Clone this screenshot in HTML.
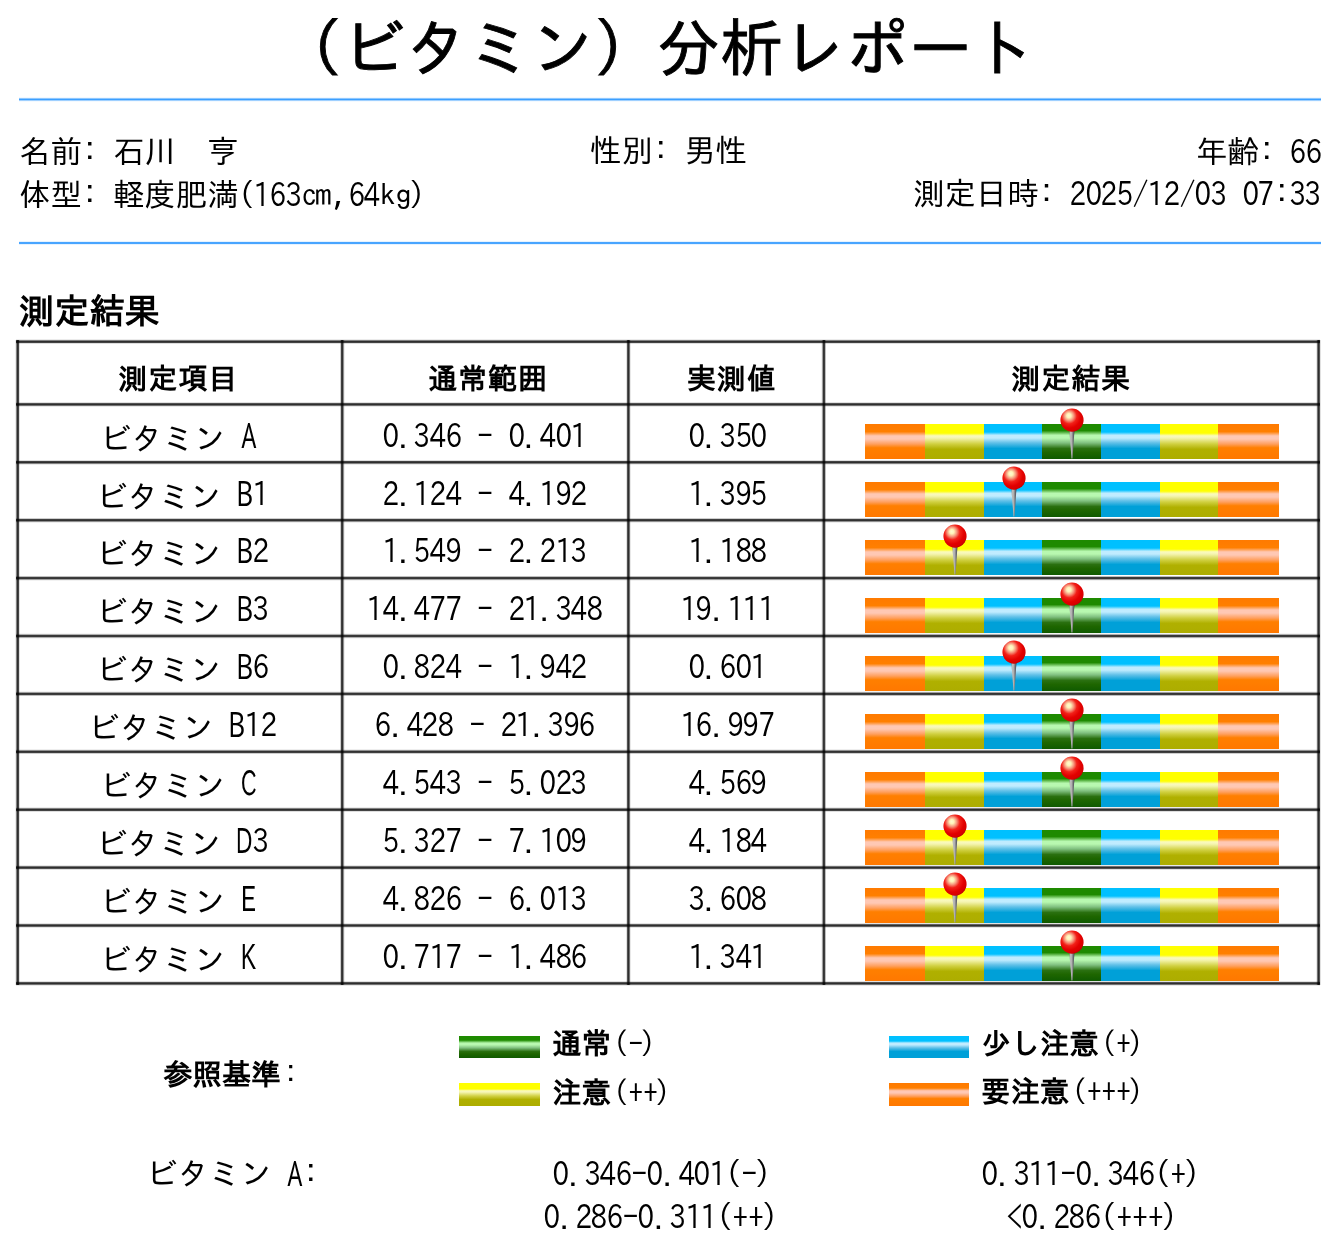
<!DOCTYPE html>
<html lang="ja"><head><meta charset="utf-8"><title>（ビタミン）分析レポート</title><style>
html,body{margin:0;padding:0;background:#fff}
body{width:1332px;height:1246px;position:relative;overflow:hidden;font-family:"IPAGothic","Liberation Sans",sans-serif;color:#000}
.a{position:absolute;white-space:pre;line-height:1;margin:0;will-change:transform}
.b{font-weight:bold}
.ln{position:absolute}
.bar{position:absolute;height:35px}
.bar i{position:absolute;top:0;display:block;height:35px}
.lb{position:absolute}
.d{display:inline-flex;justify-content:center;width:.5em;font-family:IPAPGothic,IPAGothic,sans-serif;transform:scale(.84,1.03)}
.p{display:inline-block;width:.5em;text-align:left;font-family:IPAPGothic,IPAGothic,sans-serif;position:relative;top:1.2px}
.rp{display:inline-block;width:.5em;text-align:left;text-indent:-.073em}
.u{display:inline-block;width:.5em;text-align:left;font-family:IPAPGothic,IPAGothic,sans-serif}
.kt{position:relative;top:2.5px}
.lp{font-weight:normal}
.k{display:inline-block;width:.5em;text-align:left;text-indent:.091em;font-family:IPAPGothic,IPAGothic,sans-serif;position:relative;top:-4px}
.pin{position:absolute;overflow:visible}
.o{background:linear-gradient(#FF7A00 0%,#FF7F00 22%,#FFC8B4 34%,#FFC8B4 43%,#FFA060 57%,#FF7F00 68%,#FF7800 100%)}
.y{background:linear-gradient(#FFFF00 0%,#FFFF00 26%,#FAFAC0 34%,#F5F5B0 40%,#D0D040 57%,#B0B000 72%,#ADAD00 100%)}
.c{background:linear-gradient(#00C0FF 0%,#00C0FF 23%,#C0ECFF 32%,#C0ECFF 40%,#60C0E8 54%,#00A0D8 70%,#00A0D8 100%)}
.g{background:linear-gradient(#1E8A00 0%,#1E8A00 19%,#B8F8B0 32%,#B8F8B0 40%,#80C080 54%,#2A7010 70%,#1E6600 81%,#0F5A00 100%)}
</style></head>
<body>
<svg width="0" height="0" style="position:absolute"><defs>
<radialGradient id="ballG" cx="0.4" cy="0.36" r="0.66" fx="0.36" fy="0.3">
<stop offset="0" stop-color="#FFFBD2"/><stop offset="0.14" stop-color="#FFF2B8"/><stop offset="0.32" stop-color="#F69078"/><stop offset="0.5" stop-color="#F22018"/><stop offset="0.75" stop-color="#E20000"/><stop offset="0.92" stop-color="#D80000"/><stop offset="1" stop-color="#C00000"/></radialGradient>
<linearGradient id="needleG" x1="0" x2="1" y1="0" y2="0"><stop offset="0" stop-color="#8a8a8a"/><stop offset="0.3" stop-color="#c8c8c8"/><stop offset="0.55" stop-color="#9a9a9a"/><stop offset="1" stop-color="#3a3a48"/></linearGradient>
<g id="pinS"><polygon points="11.3,24 16.5,24 14.5,52.4 13.5,52.4" fill="url(#needleG)"/><circle cx="14" cy="14.1" r="11.6" fill="url(#ballG)"/></g>
</defs></svg>
<div class="a " style="top:16.04px;font-size:63.0px;left:206.70px;width:900.00px;text-align:center;-webkit-text-stroke:0.9px #000">（ビタミン）分析レポート</div>
<div class="ln" style="left:19px;width:1302px;top:97px;height:5px;background:linear-gradient(to bottom,rgba(30,144,255,0.060) 0px,rgba(30,144,255,0.060) 1px,rgba(30,144,255,0.500) 1px,rgba(30,144,255,0.500) 2px,rgba(30,144,255,0.868) 2px,rgba(30,144,255,0.868) 3px,rgba(30,144,255,0.424) 3px,rgba(30,144,255,0.424) 4px,rgba(30,144,255,0.048) 4px,rgba(30,144,255,0.048) 5px)"></div>
<div class="ln" style="left:19px;width:1302px;top:241px;height:4px;background:linear-gradient(to bottom,rgba(30,144,255,0.111) 0px,rgba(30,144,255,0.111) 1px,rgba(30,144,255,0.811) 1px,rgba(30,144,255,0.811) 2px,rgba(30,144,255,0.811) 2px,rgba(30,144,255,0.811) 3px,rgba(30,144,255,0.111) 3px,rgba(30,144,255,0.111) 4px)"></div>
<div class="a " style="top:135.86px;font-size:31.4px;left:18.55px;">名前<span class="k">:</span> 石川　亨</div>
<div class="a " style="top:134.94px;font-size:31.4px;left:590.38px;">性別<span class="k">:</span> 男性</div>
<div class="a " style="top:135.68px;font-size:31.4px;right:10.24px;text-align:right;">年齢<span class="k">:</span> <span class="d">6</span><span class="d">6</span></div>
<div class="a " style="top:178.60px;font-size:31.4px;left:18.55px;">体型<span class="k">:</span> 軽度肥満(<span class="d">1</span><span class="d">6</span><span class="d">3</span>㎝,<span class="d">6</span><span class="d">4</span>kg<span class="rp">)</span></div>
<div class="a " style="top:178.39px;font-size:31.4px;right:10.54px;text-align:right;">測定日時<span class="k">:</span> <span class="d">2</span><span class="d">0</span><span class="d">2</span><span class="d">5</span>/<span class="d">1</span><span class="d">2</span>/<span class="d">0</span><span class="d">3</span> <span class="d">0</span><span class="d">7</span><span class="k">:</span><span class="d">3</span><span class="d">3</span></div>
<div class="a b" style="top:292.88px;font-size:35.2px;left:19.11px;">測定結果</div>
<div class="ln" style="top:340px;height:645px;left:15px;width:5px;background:linear-gradient(to right,rgba(0,0,0,0.078) 0px,rgba(0,0,0,0.078) 1px,rgba(0,0,0,0.496) 1px,rgba(0,0,0,0.496) 2px,rgba(0,0,0,0.818) 2px,rgba(0,0,0,0.818) 3px,rgba(0,0,0,0.739) 3px,rgba(0,0,0,0.739) 4px,rgba(0,0,0,0.131) 4px,rgba(0,0,0,0.131) 5px)"></div>
<div class="ln" style="top:340px;height:645px;left:340px;width:5px;background:linear-gradient(to right,rgba(0,0,0,0.191) 0px,rgba(0,0,0,0.191) 1px,rgba(0,0,0,0.753) 1px,rgba(0,0,0,0.753) 2px,rgba(0,0,0,0.805) 2px,rgba(0,0,0,0.805) 3px,rgba(0,0,0,0.435) 3px,rgba(0,0,0,0.435) 4px,rgba(0,0,0,0.065) 4px,rgba(0,0,0,0.065) 5px)"></div>
<div class="ln" style="top:340px;height:645px;left:626px;width:5px;background:linear-gradient(to right,rgba(0,0,0,0.117) 0px,rgba(0,0,0,0.117) 1px,rgba(0,0,0,0.679) 1px,rgba(0,0,0,0.679) 2px,rgba(0,0,0,0.818) 2px,rgba(0,0,0,0.818) 3px,rgba(0,0,0,0.557) 3px,rgba(0,0,0,0.557) 4px,rgba(0,0,0,0.091) 4px,rgba(0,0,0,0.091) 5px)"></div>
<div class="ln" style="top:340px;height:645px;left:821px;width:5px;background:linear-gradient(to right,rgba(0,0,0,0.052) 0px,rgba(0,0,0,0.052) 1px,rgba(0,0,0,0.374) 1px,rgba(0,0,0,0.374) 2px,rgba(0,0,0,0.792) 2px,rgba(0,0,0,0.792) 3px,rgba(0,0,0,0.766) 3px,rgba(0,0,0,0.766) 4px,rgba(0,0,0,0.252) 4px,rgba(0,0,0,0.252) 5px)"></div>
<div class="ln" style="top:340px;height:645px;left:1316px;width:5px;background:linear-gradient(to right,rgba(0,0,0,0.091) 0px,rgba(0,0,0,0.091) 1px,rgba(0,0,0,0.557) 1px,rgba(0,0,0,0.557) 2px,rgba(0,0,0,0.818) 2px,rgba(0,0,0,0.818) 3px,rgba(0,0,0,0.679) 3px,rgba(0,0,0,0.679) 4px,rgba(0,0,0,0.117) 4px,rgba(0,0,0,0.117) 5px)"></div>
<div class="ln" style="left:16px;width:1304px;top:339px;height:5px;background:linear-gradient(to bottom,rgba(0,0,0,0.078) 0px,rgba(0,0,0,0.078) 1px,rgba(0,0,0,0.496) 1px,rgba(0,0,0,0.496) 2px,rgba(0,0,0,0.818) 2px,rgba(0,0,0,0.818) 3px,rgba(0,0,0,0.739) 3px,rgba(0,0,0,0.739) 4px,rgba(0,0,0,0.131) 4px,rgba(0,0,0,0.131) 5px)"></div>
<div class="ln" style="left:16px;width:1304px;top:402px;height:5px;background:linear-gradient(to bottom,rgba(0,0,0,0.117) 0px,rgba(0,0,0,0.117) 1px,rgba(0,0,0,0.679) 1px,rgba(0,0,0,0.679) 2px,rgba(0,0,0,0.818) 2px,rgba(0,0,0,0.818) 3px,rgba(0,0,0,0.557) 3px,rgba(0,0,0,0.557) 4px,rgba(0,0,0,0.091) 4px,rgba(0,0,0,0.091) 5px)"></div>
<div class="ln" style="left:16px;width:1304px;top:460px;height:5px;background:linear-gradient(to bottom,rgba(0,0,0,0.131) 0px,rgba(0,0,0,0.131) 1px,rgba(0,0,0,0.740) 1px,rgba(0,0,0,0.740) 2px,rgba(0,0,0,0.818) 2px,rgba(0,0,0,0.818) 3px,rgba(0,0,0,0.496) 3px,rgba(0,0,0,0.496) 4px,rgba(0,0,0,0.078) 4px,rgba(0,0,0,0.078) 5px)"></div>
<div class="ln" style="left:16px;width:1304px;top:518px;height:5px;background:linear-gradient(to bottom,rgba(0,0,0,0.191) 0px,rgba(0,0,0,0.191) 1px,rgba(0,0,0,0.753) 1px,rgba(0,0,0,0.753) 2px,rgba(0,0,0,0.805) 2px,rgba(0,0,0,0.805) 3px,rgba(0,0,0,0.435) 3px,rgba(0,0,0,0.435) 4px,rgba(0,0,0,0.065) 4px,rgba(0,0,0,0.065) 5px)"></div>
<div class="ln" style="left:16px;width:1304px;top:576px;height:5px;background:linear-gradient(to bottom,rgba(0,0,0,0.252) 0px,rgba(0,0,0,0.252) 1px,rgba(0,0,0,0.766) 1px,rgba(0,0,0,0.766) 2px,rgba(0,0,0,0.792) 2px,rgba(0,0,0,0.792) 3px,rgba(0,0,0,0.374) 3px,rgba(0,0,0,0.374) 4px,rgba(0,0,0,0.052) 4px,rgba(0,0,0,0.052) 5px)"></div>
<div class="ln" style="left:16px;width:1304px;top:633px;height:6px;background:linear-gradient(to bottom,rgba(0,0,0,0.039) 0px,rgba(0,0,0,0.039) 1px,rgba(0,0,0,0.313) 1px,rgba(0,0,0,0.313) 2px,rgba(0,0,0,0.779) 2px,rgba(0,0,0,0.779) 3px,rgba(0,0,0,0.779) 3px,rgba(0,0,0,0.779) 4px,rgba(0,0,0,0.313) 4px,rgba(0,0,0,0.313) 5px,rgba(0,0,0,0.039) 5px,rgba(0,0,0,0.039) 6px)"></div>
<div class="ln" style="left:16px;width:1304px;top:691px;height:5px;background:linear-gradient(to bottom,rgba(0,0,0,0.052) 0px,rgba(0,0,0,0.052) 1px,rgba(0,0,0,0.374) 1px,rgba(0,0,0,0.374) 2px,rgba(0,0,0,0.792) 2px,rgba(0,0,0,0.792) 3px,rgba(0,0,0,0.766) 3px,rgba(0,0,0,0.766) 4px,rgba(0,0,0,0.252) 4px,rgba(0,0,0,0.252) 5px)"></div>
<div class="ln" style="left:16px;width:1304px;top:749px;height:5px;background:linear-gradient(to bottom,rgba(0,0,0,0.065) 0px,rgba(0,0,0,0.065) 1px,rgba(0,0,0,0.435) 1px,rgba(0,0,0,0.435) 2px,rgba(0,0,0,0.805) 2px,rgba(0,0,0,0.805) 3px,rgba(0,0,0,0.753) 3px,rgba(0,0,0,0.753) 4px,rgba(0,0,0,0.191) 4px,rgba(0,0,0,0.191) 5px)"></div>
<div class="ln" style="left:16px;width:1304px;top:807px;height:5px;background:linear-gradient(to bottom,rgba(0,0,0,0.078) 0px,rgba(0,0,0,0.078) 1px,rgba(0,0,0,0.496) 1px,rgba(0,0,0,0.496) 2px,rgba(0,0,0,0.818) 2px,rgba(0,0,0,0.818) 3px,rgba(0,0,0,0.739) 3px,rgba(0,0,0,0.739) 4px,rgba(0,0,0,0.131) 4px,rgba(0,0,0,0.131) 5px)"></div>
<div class="ln" style="left:16px;width:1304px;top:865px;height:5px;background:linear-gradient(to bottom,rgba(0,0,0,0.091) 0px,rgba(0,0,0,0.091) 1px,rgba(0,0,0,0.557) 1px,rgba(0,0,0,0.557) 2px,rgba(0,0,0,0.818) 2px,rgba(0,0,0,0.818) 3px,rgba(0,0,0,0.679) 3px,rgba(0,0,0,0.679) 4px,rgba(0,0,0,0.117) 4px,rgba(0,0,0,0.117) 5px)"></div>
<div class="ln" style="left:16px;width:1304px;top:923px;height:5px;background:linear-gradient(to bottom,rgba(0,0,0,0.104) 0px,rgba(0,0,0,0.104) 1px,rgba(0,0,0,0.618) 1px,rgba(0,0,0,0.618) 2px,rgba(0,0,0,0.818) 2px,rgba(0,0,0,0.818) 3px,rgba(0,0,0,0.618) 3px,rgba(0,0,0,0.618) 4px,rgba(0,0,0,0.104) 4px,rgba(0,0,0,0.104) 5px)"></div>
<div class="ln" style="left:16px;width:1304px;top:981px;height:5px;background:linear-gradient(to bottom,rgba(0,0,0,0.117) 0px,rgba(0,0,0,0.117) 1px,rgba(0,0,0,0.679) 1px,rgba(0,0,0,0.679) 2px,rgba(0,0,0,0.818) 2px,rgba(0,0,0,0.818) 3px,rgba(0,0,0,0.557) 3px,rgba(0,0,0,0.557) 4px,rgba(0,0,0,0.091) 4px,rgba(0,0,0,0.091) 5px)"></div>
<div class="a b" style="top:363.19px;font-size:29.0px;left:15.60px;width:324.50px;text-align:center;letter-spacing:1px">測定項目</div>
<div class="a b" style="top:363.19px;font-size:29.0px;left:345.30px;width:286.20px;text-align:center;letter-spacing:1px">通常範囲</div>
<div class="a b" style="top:363.19px;font-size:29.0px;left:634.30px;width:195.50px;text-align:center;letter-spacing:1px">実測値</div>
<div class="a b" style="top:363.19px;font-size:29.0px;left:824.40px;width:494.70px;text-align:center;letter-spacing:1px">測定結果</div>
<div class="a " style="top:419.68px;font-size:31.4px;left:16.30px;width:324.50px;text-align:center;"><span class="kt">ビタミン</span> <span class="u" style="text-indent:-0.0664em;transform-origin:0.2500em 50%;transform:scale(0.743,1.06)">A</span></div>
<div class="a " style="top:419.68px;font-size:31.4px;left:342.20px;width:286.20px;text-align:center;"><span class="d">0</span><span class="p">.</span><span class="d">3</span><span class="d">4</span><span class="d">6</span> - <span class="d">0</span><span class="p">.</span><span class="d">4</span><span class="d">0</span><span class="d">1</span></div>
<div class="a " style="top:419.68px;font-size:31.4px;left:630.10px;width:195.50px;text-align:center;"><span class="d">0</span><span class="p">.</span><span class="d">3</span><span class="d">5</span><span class="d">0</span></div>
<div class="bar" style="left:864.6px;top:424.40px;width:414.50px"><i class="o" style="left:0.00px;width:60.90px"></i><i class="y" style="left:60.90px;width:58.70px"></i><i class="c" style="left:119.60px;width:58.00px"></i><i class="g" style="left:177.60px;width:59.00px"></i><i class="c" style="left:236.60px;width:58.80px"></i><i class="y" style="left:295.40px;width:58.20px"></i><i class="o" style="left:353.60px;width:60.90px"></i></div>
<svg class="pin" style="left:1057.70px;top:406.40px" width="28" height="60" viewBox="0 0 28 60"><use href="#pinS"/></svg>
<div class="a " style="top:477.58px;font-size:31.4px;left:19.60px;width:324.50px;text-align:center;"><span class="kt">ビタミン</span> <span class="u" style="text-indent:-0.0852em;transform-origin:0.2605em 50%;transform:scale(0.83,1.06)">B</span><span class="d">1</span></div>
<div class="a " style="top:477.58px;font-size:31.4px;left:342.20px;width:286.20px;text-align:center;"><span class="d">2</span><span class="p">.</span><span class="d">1</span><span class="d">2</span><span class="d">4</span> - <span class="d">4</span><span class="p">.</span><span class="d">1</span><span class="d">9</span><span class="d">2</span></div>
<div class="a " style="top:477.58px;font-size:31.4px;left:630.10px;width:195.50px;text-align:center;"><span class="d">1</span><span class="p">.</span><span class="d">3</span><span class="d">9</span><span class="d">5</span></div>
<div class="bar" style="left:864.6px;top:482.30px;width:414.50px"><i class="o" style="left:0.00px;width:60.90px"></i><i class="y" style="left:60.90px;width:58.70px"></i><i class="c" style="left:119.60px;width:58.00px"></i><i class="g" style="left:177.60px;width:59.00px"></i><i class="c" style="left:236.60px;width:58.80px"></i><i class="y" style="left:295.40px;width:58.20px"></i><i class="o" style="left:353.60px;width:60.90px"></i></div>
<svg class="pin" style="left:1000.00px;top:464.30px" width="28" height="60" viewBox="0 0 28 60"><use href="#pinS"/></svg>
<div class="a " style="top:535.48px;font-size:31.4px;left:19.60px;width:324.50px;text-align:center;"><span class="kt">ビタミン</span> <span class="u" style="text-indent:-0.0852em;transform-origin:0.2605em 50%;transform:scale(0.83,1.06)">B</span><span class="d">2</span></div>
<div class="a " style="top:535.48px;font-size:31.4px;left:342.20px;width:286.20px;text-align:center;"><span class="d">1</span><span class="p">.</span><span class="d">5</span><span class="d">4</span><span class="d">9</span> - <span class="d">2</span><span class="p">.</span><span class="d">2</span><span class="d">1</span><span class="d">3</span></div>
<div class="a " style="top:535.48px;font-size:31.4px;left:630.10px;width:195.50px;text-align:center;"><span class="d">1</span><span class="p">.</span><span class="d">1</span><span class="d">8</span><span class="d">8</span></div>
<div class="bar" style="left:864.6px;top:540.20px;width:414.50px"><i class="o" style="left:0.00px;width:60.90px"></i><i class="y" style="left:60.90px;width:58.70px"></i><i class="c" style="left:119.60px;width:58.00px"></i><i class="g" style="left:177.60px;width:59.00px"></i><i class="c" style="left:236.60px;width:58.80px"></i><i class="y" style="left:295.40px;width:58.20px"></i><i class="o" style="left:353.60px;width:60.90px"></i></div>
<svg class="pin" style="left:940.85px;top:522.20px" width="28" height="60" viewBox="0 0 28 60"><use href="#pinS"/></svg>
<div class="a " style="top:593.38px;font-size:31.4px;left:19.60px;width:324.50px;text-align:center;"><span class="kt">ビタミン</span> <span class="u" style="text-indent:-0.0852em;transform-origin:0.2605em 50%;transform:scale(0.83,1.06)">B</span><span class="d">3</span></div>
<div class="a " style="top:593.38px;font-size:31.4px;left:342.20px;width:286.20px;text-align:center;"><span class="d">1</span><span class="d">4</span><span class="p">.</span><span class="d">4</span><span class="d">7</span><span class="d">7</span> - <span class="d">2</span><span class="d">1</span><span class="p">.</span><span class="d">3</span><span class="d">4</span><span class="d">8</span></div>
<div class="a " style="top:593.38px;font-size:31.4px;left:630.10px;width:195.50px;text-align:center;"><span class="d">1</span><span class="d">9</span><span class="p">.</span><span class="d">1</span><span class="d">1</span><span class="d">1</span></div>
<div class="bar" style="left:864.6px;top:598.10px;width:414.50px"><i class="o" style="left:0.00px;width:60.90px"></i><i class="y" style="left:60.90px;width:58.70px"></i><i class="c" style="left:119.60px;width:58.00px"></i><i class="g" style="left:177.60px;width:59.00px"></i><i class="c" style="left:236.60px;width:58.80px"></i><i class="y" style="left:295.40px;width:58.20px"></i><i class="o" style="left:353.60px;width:60.90px"></i></div>
<svg class="pin" style="left:1057.70px;top:580.10px" width="28" height="60" viewBox="0 0 28 60"><use href="#pinS"/></svg>
<div class="a " style="top:651.28px;font-size:31.4px;left:19.60px;width:324.50px;text-align:center;"><span class="kt">ビタミン</span> <span class="u" style="text-indent:-0.0852em;transform-origin:0.2605em 50%;transform:scale(0.83,1.06)">B</span><span class="d">6</span></div>
<div class="a " style="top:651.28px;font-size:31.4px;left:342.20px;width:286.20px;text-align:center;"><span class="d">0</span><span class="p">.</span><span class="d">8</span><span class="d">2</span><span class="d">4</span> - <span class="d">1</span><span class="p">.</span><span class="d">9</span><span class="d">4</span><span class="d">2</span></div>
<div class="a " style="top:651.28px;font-size:31.4px;left:630.10px;width:195.50px;text-align:center;"><span class="d">0</span><span class="p">.</span><span class="d">6</span><span class="d">0</span><span class="d">1</span></div>
<div class="bar" style="left:864.6px;top:656.00px;width:414.50px"><i class="o" style="left:0.00px;width:60.90px"></i><i class="y" style="left:60.90px;width:58.70px"></i><i class="c" style="left:119.60px;width:58.00px"></i><i class="g" style="left:177.60px;width:59.00px"></i><i class="c" style="left:236.60px;width:58.80px"></i><i class="y" style="left:295.40px;width:58.20px"></i><i class="o" style="left:353.60px;width:60.90px"></i></div>
<svg class="pin" style="left:1000.00px;top:638.00px" width="28" height="60" viewBox="0 0 28 60"><use href="#pinS"/></svg>
<div class="a " style="top:709.18px;font-size:31.4px;left:20.20px;width:324.50px;text-align:center;"><span class="kt">ビタミン</span> <span class="u" style="text-indent:-0.0852em;transform-origin:0.2605em 50%;transform:scale(0.83,1.06)">B</span><span class="d">1</span><span class="d">2</span></div>
<div class="a " style="top:709.18px;font-size:31.4px;left:342.20px;width:286.20px;text-align:center;"><span class="d">6</span><span class="p">.</span><span class="d">4</span><span class="d">2</span><span class="d">8</span> - <span class="d">2</span><span class="d">1</span><span class="p">.</span><span class="d">3</span><span class="d">9</span><span class="d">6</span></div>
<div class="a " style="top:709.18px;font-size:31.4px;left:630.10px;width:195.50px;text-align:center;"><span class="d">1</span><span class="d">6</span><span class="p">.</span><span class="d">9</span><span class="d">9</span><span class="d">7</span></div>
<div class="bar" style="left:864.6px;top:713.90px;width:414.50px"><i class="o" style="left:0.00px;width:60.90px"></i><i class="y" style="left:60.90px;width:58.70px"></i><i class="c" style="left:119.60px;width:58.00px"></i><i class="g" style="left:177.60px;width:59.00px"></i><i class="c" style="left:236.60px;width:58.80px"></i><i class="y" style="left:295.40px;width:58.20px"></i><i class="o" style="left:353.60px;width:60.90px"></i></div>
<svg class="pin" style="left:1057.70px;top:695.90px" width="28" height="60" viewBox="0 0 28 60"><use href="#pinS"/></svg>
<div class="a " style="top:767.08px;font-size:31.4px;left:16.30px;width:324.50px;text-align:center;"><span class="kt">ビタミン</span> <span class="u" style="text-indent:-0.1208em;transform-origin:0.2488em 50%;transform:scale(0.7,1.06)">C</span></div>
<div class="a " style="top:767.08px;font-size:31.4px;left:342.20px;width:286.20px;text-align:center;"><span class="d">4</span><span class="p">.</span><span class="d">5</span><span class="d">4</span><span class="d">3</span> - <span class="d">5</span><span class="p">.</span><span class="d">0</span><span class="d">2</span><span class="d">3</span></div>
<div class="a " style="top:767.08px;font-size:31.4px;left:630.10px;width:195.50px;text-align:center;"><span class="d">4</span><span class="p">.</span><span class="d">5</span><span class="d">6</span><span class="d">9</span></div>
<div class="bar" style="left:864.6px;top:771.80px;width:414.50px"><i class="o" style="left:0.00px;width:60.90px"></i><i class="y" style="left:60.90px;width:58.70px"></i><i class="c" style="left:119.60px;width:58.00px"></i><i class="g" style="left:177.60px;width:59.00px"></i><i class="c" style="left:236.60px;width:58.80px"></i><i class="y" style="left:295.40px;width:58.20px"></i><i class="o" style="left:353.60px;width:60.90px"></i></div>
<svg class="pin" style="left:1057.70px;top:753.80px" width="28" height="60" viewBox="0 0 28 60"><use href="#pinS"/></svg>
<div class="a " style="top:824.98px;font-size:31.4px;left:19.60px;width:324.50px;text-align:center;"><span class="kt">ビタミン</span> <span class="u" style="text-indent:-0.1553em;transform-origin:0.2405em 50%;transform:scale(0.71,1.06)">D</span><span class="d">3</span></div>
<div class="a " style="top:824.98px;font-size:31.4px;left:342.20px;width:286.20px;text-align:center;"><span class="d">5</span><span class="p">.</span><span class="d">3</span><span class="d">2</span><span class="d">7</span> - <span class="d">7</span><span class="p">.</span><span class="d">1</span><span class="d">0</span><span class="d">9</span></div>
<div class="a " style="top:824.98px;font-size:31.4px;left:630.10px;width:195.50px;text-align:center;"><span class="d">4</span><span class="p">.</span><span class="d">1</span><span class="d">8</span><span class="d">4</span></div>
<div class="bar" style="left:864.6px;top:829.70px;width:414.50px"><i class="o" style="left:0.00px;width:60.90px"></i><i class="y" style="left:60.90px;width:58.70px"></i><i class="c" style="left:119.60px;width:58.00px"></i><i class="g" style="left:177.60px;width:59.00px"></i><i class="c" style="left:236.60px;width:58.80px"></i><i class="y" style="left:295.40px;width:58.20px"></i><i class="o" style="left:353.60px;width:60.90px"></i></div>
<svg class="pin" style="left:940.85px;top:811.70px" width="28" height="60" viewBox="0 0 28 60"><use href="#pinS"/></svg>
<div class="a " style="top:882.88px;font-size:31.4px;left:16.30px;width:324.50px;text-align:center;"><span class="kt">ビタミン</span> <span class="u" style="text-indent:-0.0693em;transform-origin:0.2554em 50%;transform:scale(0.833,1.06)">E</span></div>
<div class="a " style="top:882.88px;font-size:31.4px;left:342.20px;width:286.20px;text-align:center;"><span class="d">4</span><span class="p">.</span><span class="d">8</span><span class="d">2</span><span class="d">6</span> - <span class="d">6</span><span class="p">.</span><span class="d">0</span><span class="d">1</span><span class="d">3</span></div>
<div class="a " style="top:882.88px;font-size:31.4px;left:630.10px;width:195.50px;text-align:center;"><span class="d">3</span><span class="p">.</span><span class="d">6</span><span class="d">0</span><span class="d">8</span></div>
<div class="bar" style="left:864.6px;top:887.60px;width:414.50px"><i class="o" style="left:0.00px;width:60.90px"></i><i class="y" style="left:60.90px;width:58.70px"></i><i class="c" style="left:119.60px;width:58.00px"></i><i class="g" style="left:177.60px;width:59.00px"></i><i class="c" style="left:236.60px;width:58.80px"></i><i class="y" style="left:295.40px;width:58.20px"></i><i class="o" style="left:353.60px;width:60.90px"></i></div>
<svg class="pin" style="left:940.85px;top:869.60px" width="28" height="60" viewBox="0 0 28 60"><use href="#pinS"/></svg>
<div class="a " style="top:940.78px;font-size:31.4px;left:16.30px;width:324.50px;text-align:center;"><span class="kt">ビタミン</span> <span class="u" style="text-indent:-0.1064em;transform-origin:0.2646em 50%;transform:scale(0.76,1.06)">K</span></div>
<div class="a " style="top:940.78px;font-size:31.4px;left:342.20px;width:286.20px;text-align:center;"><span class="d">0</span><span class="p">.</span><span class="d">7</span><span class="d">1</span><span class="d">7</span> - <span class="d">1</span><span class="p">.</span><span class="d">4</span><span class="d">8</span><span class="d">6</span></div>
<div class="a " style="top:940.78px;font-size:31.4px;left:630.10px;width:195.50px;text-align:center;"><span class="d">1</span><span class="p">.</span><span class="d">3</span><span class="d">4</span><span class="d">1</span></div>
<div class="bar" style="left:864.6px;top:945.50px;width:414.50px"><i class="o" style="left:0.00px;width:60.90px"></i><i class="y" style="left:60.90px;width:58.70px"></i><i class="c" style="left:119.60px;width:58.00px"></i><i class="g" style="left:177.60px;width:59.00px"></i><i class="c" style="left:236.60px;width:58.80px"></i><i class="y" style="left:295.40px;width:58.20px"></i><i class="o" style="left:353.60px;width:60.90px"></i></div>
<svg class="pin" style="left:1057.70px;top:927.50px" width="28" height="60" viewBox="0 0 28 60"><use href="#pinS"/></svg>
<div class="lb g" style="left:459.4px;top:1035.5px;width:80.3px;height:22.5px"></div>
<div class="lb y" style="left:459.4px;top:1083.2px;width:80.3px;height:22.5px"></div>
<div class="lb c" style="left:888.8px;top:1035.5px;width:80.3px;height:22.5px"></div>
<div class="lb o" style="left:888.8px;top:1083.2px;width:80.3px;height:22.5px"></div>
<div class="a b" style="top:1028.83px;font-size:29.4px;left:551.52px;">通常<span class="lp"><span style="margin-left:3px">(</span>-<span style="margin-left:-3px">)</span></span></div>
<div class="a b" style="top:1078.12px;font-size:29.4px;left:552.20px;">注意<span class="lp"><span style="margin-left:3px">(</span>++<span style="margin-left:-3px">)</span></span></div>
<div class="a b" style="top:1029.27px;font-size:29.4px;left:980.63px;">少し注意<span class="lp"><span style="margin-left:3px">(</span>+<span style="margin-left:-3px">)</span></span></div>
<div class="a b" style="top:1077.00px;font-size:29.4px;left:981.25px;">要注意<span class="lp"><span style="margin-left:3px">(</span>+++<span style="margin-left:-3px">)</span></span></div>
<div class="a b" style="top:1060.12px;font-size:29.4px;left:162.79px;">参照基準<span class="k" style="margin-left:2.8px;font-weight:normal">:</span></div>
<div class="a " style="top:1157.98px;font-size:31.4px;left:146.05px;">ビタミン <span class="u" style="text-indent:-0.0664em;transform-origin:0.2500em 50%;transform:scale(0.743,1.06)">A</span><span class="k">:</span></div>
<div class="a " style="top:1157.78px;font-size:31.4px;left:462.50px;width:400.00px;text-align:center;"><span class="d">0</span><span class="p">.</span><span class="d">3</span><span class="d">4</span><span class="d">6</span>-<span class="d">0</span><span class="p">.</span><span class="d">4</span><span class="d">0</span><span class="d">1</span>(-<span class="rp">)</span></div>
<div class="a " style="top:1201.18px;font-size:31.4px;left:461.50px;width:400.00px;text-align:center;"><span class="d">0</span><span class="p">.</span><span class="d">2</span><span class="d">8</span><span class="d">6</span>-<span class="d">0</span><span class="p">.</span><span class="d">3</span><span class="d">1</span><span class="d">1</span>(++<span class="rp">)</span></div>
<div class="a " style="top:1157.78px;font-size:31.4px;left:892.40px;width:400.00px;text-align:center;"><span class="d">0</span><span class="p">.</span><span class="d">3</span><span class="d">1</span><span class="d">1</span>-<span class="d">0</span><span class="p">.</span><span class="d">3</span><span class="d">4</span><span class="d">6</span>(+<span class="rp">)</span></div>
<div class="a " style="top:1201.18px;font-size:31.4px;left:892.60px;width:400.00px;text-align:center;">&lt;<span class="d">0</span><span class="p">.</span><span class="d">2</span><span class="d">8</span><span class="d">6</span>(+++<span class="rp">)</span></div>
</body></html>
